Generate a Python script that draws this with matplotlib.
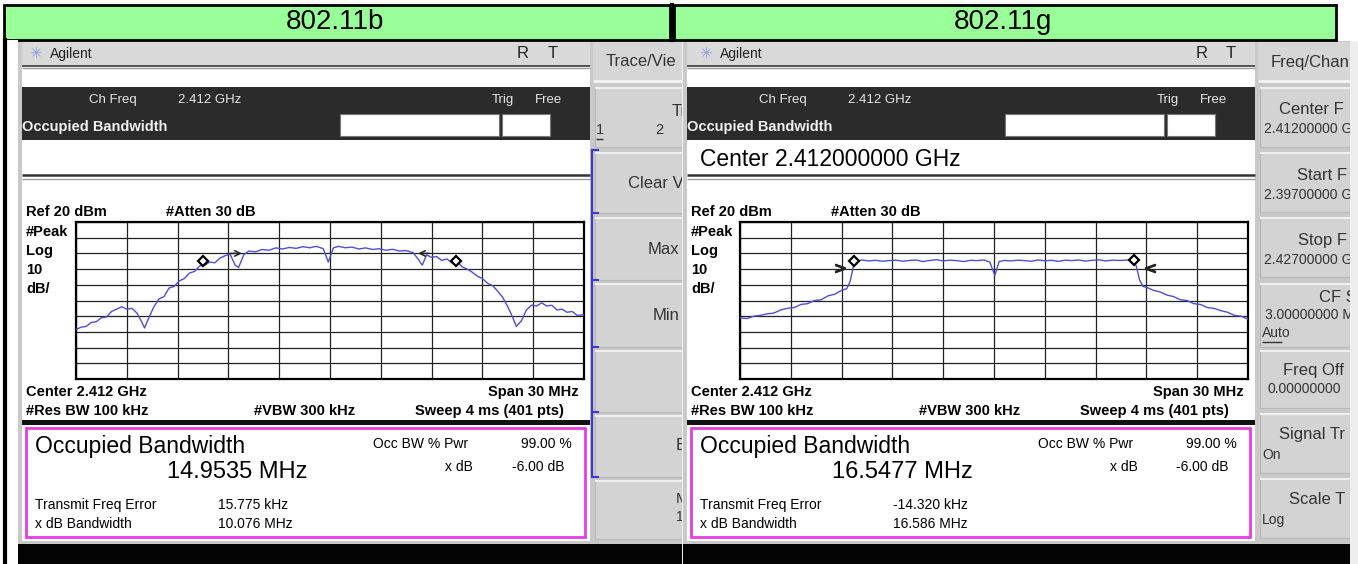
import matplotlib
matplotlib.use('Agg')
import matplotlib.pyplot as plt
from matplotlib.patches import Rectangle

plt.rcParams['font.family'] = ['Liberation Sans', 'DejaVu Sans']

# spectrum traces (MHz offset from 2.412 GHz, dBm)
b_freq = [-15.0, -14.7, -14.4, -14.1, -13.8, -13.5, -13.2, -12.9, -12.6, -12.3, -12.0, -11.7,
          -11.4, -11.1, -10.95, -10.7, -10.4, -10.1, -9.8, -9.5, -9.2, -8.9, -8.6, -8.3, -8.0,
          -7.7, -7.4, -7.1, -6.8, -6.5, -6.2, -5.9, -5.6, -5.4, -5.1, -4.8, -4.4, -4.0, -3.6,
          -3.2, -2.8, -2.4, -2.0, -1.6, -1.2, -0.8, -0.4, -0.1, 0.2, 0.5, 0.9, 1.3, 1.7, 2.1,
          2.5, 2.9, 3.3, 3.7, 4.1, 4.5, 4.9, 5.2, 5.45, 5.7, 6.0, 6.3, 6.6, 6.9, 7.2, 7.5, 7.8,
          8.1, 8.4, 8.7, 9.0, 9.3, 9.6, 9.9, 10.2, 10.5, 10.8, 11.0, 11.3, 11.6, 11.9, 12.2,
          12.5, 12.8, 13.1, 13.4, 13.7, 14.0, 14.3, 14.6, 15.0]
b_level = [-48.5, -47.0, -46.5, -44.0, -43.5, -41.0, -40.5, -37.0, -35.5, -34.0, -35.5, -35.0,
           -38.0, -44.0, -47.5, -41.0, -34.0, -29.0, -27.5, -22.0, -21.0, -17.5, -16.0, -12.5,
           -11.5, -8.0, -7.5, -5.5, -6.0, -3.0, -1.5, -0.5, -7.5, -9.0, -1.0, 1.5, 1.0, 2.5,
           2.0, 3.5, 2.8, 3.8, 3.2, 4.3, 3.6, 4.5, 3.0, -5.5, 3.5, 4.5, 3.6, 4.0, 2.8, 3.5, 2.5,
           3.0, 2.0, 2.6, 1.5, 1.8, 0.5, -3.5, -7.5, -1.0, -2.5, -2.0, -4.5, -3.5, -6.0, -5.0,
           -8.5, -10.0, -12.0, -14.5, -16.0, -19.0, -20.5, -24.0, -28.0, -34.0, -41.0, -46.5,
           -43.0, -36.0, -33.0, -33.5, -31.5, -33.5, -33.0, -36.0, -35.5, -37.5, -37.0, -39.5,
           -39.0]

g_freq = [-15.0, -14.6, -14.2, -13.8, -13.4, -13.0, -12.6, -12.2, -11.8, -11.4, -11.0, -10.6,
          -10.2, -9.8, -9.4, -9.0, -8.7, -8.5, -8.3, -8.1, -7.8, -7.4, -7.0, -6.6, -6.2, -5.8,
          -5.4, -5.0, -4.6, -4.2, -3.8, -3.4, -3.0, -2.6, -2.2, -1.8, -1.4, -1.0, -0.6, -0.25,
          0.05, 0.3, 0.6, 1.0, 1.4, 1.8, 2.2, 2.6, 3.0, 3.4, 3.8, 4.2, 4.6, 5.0, 5.4, 5.8, 6.2,
          6.6, 7.0, 7.4, 7.8, 8.2, 8.4, 8.6, 8.8, 9.1, 9.4, 9.8, 10.2, 10.6, 11.0, 11.4, 11.8,
          12.2, 12.6, 13.0, 13.4, 13.8, 14.2, 14.6, 15.0]
g_level = [-41.0, -41.5, -40.0, -39.5, -38.5, -38.0, -36.0, -35.0, -34.5, -32.5, -32.0, -30.0,
           -29.5, -27.0, -26.0, -23.5, -22.5, -18.0, -8.0, -5.0, -4.2, -4.8, -4.4, -5.0, -4.6,
           -4.3, -5.0, -4.5, -4.2, -5.2, -4.5, -4.0, -4.8, -4.3, -4.6, -5.2, -4.4, -4.6, -4.2,
           -5.5, -14.0, -5.2, -4.5, -4.8, -4.3, -4.6, -5.0, -4.2, -4.7, -4.4, -5.1, -4.3, -4.6,
           -4.2, -4.9, -4.4, -4.1, -4.8, -4.3, -4.5, -4.3, -4.0, -8.0, -17.0, -21.0, -22.0,
           -23.5, -24.5, -26.5, -27.5, -29.5, -30.0, -32.0, -32.5, -34.5, -35.0, -36.5, -37.5,
           -39.5, -40.0, -42.0]

# occupied bandwidth markers (diamonds) and x dB markers (arrows)
b_obw_f = [-7.48, 7.47]
b_obw_lvl = [-5.0, -5.0]
b_xdb_f = [-5.04, 5.04]
b_xdb_lvl = [0.0, 0.0]
g_obw_f = [-8.27, 8.28]
g_obw_lvl = [-5.0, -4.5]
g_xdb_f = [-9.1, 9.2]
g_xdb_lvl = [-9.5, -9.5]

titles = ['802.11b', '802.11g']
obw_values = ['14.9535 MHz', '16.5477 MHz']
freq_errors = ['15.775 kHz', '-14.320 kHz']
xdb_bandwidths = ['10.076 MHz', '16.586 MHz']

W, H = 1358, 564
fig = plt.figure(figsize=(W / 100, H / 100), dpi=100)
ax = fig.add_axes([0, 0, 1, 1])
ax.set_xlim(0, W)
ax.set_ylim(H, 0)
ax.axis('off')


def box(x0, y0, x1, y1, fc, z, ec='none', lw=0):
    ax.add_patch(Rectangle((x0, y0), x1 - x0, y1 - y0, fc=fc, ec=ec, lw=lw, zorder=z))


def txt(x, y, s, size=9, z=3, ha='left', weight='normal', color='black'):
    ax.text(x, y, s, fontsize=size, ha=ha, va='center', fontweight=weight,
            color=color, zorder=z)


def hline(x0, x1, y, color, lw, z):
    ax.plot([x0, x1], [y, y], color=color, lw=lw, zorder=z, solid_capstyle='butt')


def draw_screen(ox, z, i, keys, key_x1, key_title, key_texts, rt_x, dx=0,
                center_line=None, bracket=False):
    # gray base and title bar
    box(ox + 18, 40, key_x1, H, '#c9c9c9', z)
    box(ox + 22, 42, ox + 590, 65, '#d9d9d9', z + 0.1)
    txt(ox + 36 + dx, 54, '\u2733', 11, z + 2, ha='center', color='#8d9ce6')
    txt(ox + 50 + dx, 54, 'Agilent', 10, z + 2, color='#222222')
    txt(rt_x[0], 54, 'R', 12, z + 2, ha='center', color='#222222')
    txt(rt_x[1], 54, 'T', 12, z + 2, ha='center', color='#222222')
    # white info area, dark bar
    box(ox + 22, 65, ox + 590, 420, 'white', z + 0.1)
    hline(ox + 22, ox + 590, 65.5, '#444444', 1.3, z + 0.5)
    hline(ox + 22, ox + 590, 68, '#9a9a9a', 1.0, z + 0.5)
    box(ox + 22, 87, ox + 590, 140, '#2b2b2b', z + 0.2)
    txt(ox + 89 + dx, 100, 'Ch Freq', 9.5, z + 2, color='#e6e6e6')
    txt(ox + 178 + dx, 100, '2.412 GHz', 9.5, z + 2, color='#e6e6e6')
    txt(ox + 492, 100, 'Trig', 9.5, z + 2, color='#e6e6e6')
    txt(ox + 535, 100, 'Free', 9.5, z + 2, color='#e6e6e6')
    txt(ox + 22, 127, 'Occupied Bandwidth', 10.5, z + 2, weight='bold', color='#f0f0f0')
    box(ox + 340, 114, ox + 499, 136, 'white', z + 0.3, ec='#777777', lw=0.8)
    box(ox + 502, 114, ox + 550, 136, 'white', z + 0.3, ec='#777777', lw=0.8)
    if center_line:
        txt(ox + 35, 160, center_line, 16.5, z + 2)
    hline(ox + 22, ox + 590, 175, '#333333', 1.8, z + 0.5)
    hline(ox + 22, ox + 590, 178.5, '#9a9a9a', 1.0, z + 0.5)
    # plot annotations
    txt(ox + 26, 212, 'Ref 20 dBm', 10.5, z + 2, weight='bold')
    txt(ox + 166, 212, '#Atten 30 dB', 10.5, z + 2, weight='bold')
    for yy, s in zip([232, 251, 270, 289], ['#Peak', 'Log', '10', 'dB/']):
        txt(ox + 26, yy, s, 10.5, z + 2, weight='bold')
    txt(ox + 26, 392, 'Center 2.412 GHz', 10.5, z + 2, weight='bold')
    txt(ox + 579, 392, 'Span 30 MHz', 10.5, z + 2, ha='right', weight='bold')
    txt(ox + 26, 411, '#Res BW 100 kHz', 10.5, z + 2, weight='bold')
    txt(ox + 254, 411, '#VBW 300 kHz', 10.5, z + 2, weight='bold')
    txt(ox + 564, 411, 'Sweep 4 ms (401 pts)', 10.5, z + 2, ha='right', weight='bold')
    box(ox + 22, 420, ox + 590, 425, '#111111', z + 0.3)
    # results box
    box(ox + 22, 425, ox + 590, 541, 'white', z + 0.2)
    box(ox + 26, 427.5, ox + 585, 537, 'white', z + 0.3, ec='#e23ee2', lw=2)
    txt(ox + 35, 446, 'Occupied Bandwidth', 16.5, z + 2)
    txt(ox + 167, 472, obw_values[i], 17, z + 2)
    txt(ox + 373, 444, 'Occ BW % Pwr', 10, z + 2)
    txt(ox + 572, 444, '99.00 %', 10, z + 2, ha='right')
    txt(ox + 473, 467, 'x dB', 10, z + 2, ha='right')
    txt(ox + 564, 467, '-6.00 dB', 10, z + 2, ha='right')
    txt(ox + 35, 505, 'Transmit Freq Error', 10, z + 2)
    txt(ox + 218 + 2 * dx, 505, freq_errors[i], 10, z + 2)
    txt(ox + 35, 524, 'x dB Bandwidth', 10, z + 2)
    txt(ox + 218 + 2 * dx, 524, xdb_bandwidths[i], 10, z + 2)
    box(ox + 18, 544, key_x1, H, '#030303', z + 0.4)
    # softkeys (labels run on past the column and get covered by the next panel)
    kx0 = ox + 593
    box(kx0, 42, key_x1, 80, '#d6d6d6', z + 0.2)
    hline(kx0, key_x1, 81, '#f4f4f4', 2, z + 0.3)
    txt(kx0 + 13, 62, key_title, 12, z + 1.5, color='#333333')
    for (y0, y1) in keys:
        box(kx0 + 2, y0, key_x1, y1, '#d3d3d3', z + 0.2, ec='#b8b8b8', lw=0.8)
        hline(kx0 + 2, key_x1, y0 + 1, '#f0f0f0', 1.5, z + 0.3)
    for (x, y, s, size) in key_texts:
        txt(ox + x, y, s, size, z + 1.5, color='#333333')
    if bracket:
        ax.plot([kx0 - 1, kx0 - 1], [150, 477], color='#3b3bd0', lw=1.6, zorder=z + 1)
        for yy in [150, 213, 280, 347, 412, 477]:
            hline(kx0 - 1, kx0 + 6, yy, '#3b3bd0', 1.5, z + 1)


left_keys = [(87, 147), (152, 213), (217, 280), (283, 347), (350, 412), (415, 477), (480, 539)]
left_key_texts = [(672, 111, 'Tr', 12), (596, 130, '1', 10.5), (655, 130, '2', 10.5),
                  (628, 183, 'Clear V', 12), (648, 249, 'Max', 12),
                  (653, 315, 'Min', 12), (676, 446, 'B', 12),
                  (676, 499, 'M', 11), (676, 517, '1', 10)]
draw_screen(0, 1, 0, left_keys, 682, 'Trace/Vie', left_key_texts, (523, 553),
            bracket=True)
hline(596, 603, 139, '#333333', 1, 4)

# gap between the two screens
box(682, 40, 688, H, '#f2f2f2', 4.8)

right_keys = [(87, 147), (152, 212), (217, 277), (283, 347), (350, 408), (413, 473), (478, 538)]
right_key_texts = [(614, 110, 'Center F', 12), (599, 129, '2.41200000 G', 10),
                   (632, 175, 'Start F', 12), (599, 195, '2.39700000 G', 10),
                   (633, 240, 'Stop F', 12), (599, 260, '2.42700000 G', 10),
                   (654, 297, 'CF S', 12), (600, 315, '3.00000000 M', 10),
                   (597, 333, 'Auto', 10),
                   (618, 370, 'Freq Off', 12), (603, 389, '0.00000000', 10),
                   (614, 435, 'Signal Tr', 12), (597, 455, 'On', 10),
                   (624, 500, 'Scale T', 12), (597, 520, 'Log', 10)]
draw_screen(665, 5, 1, right_keys, 1350, 'Freq/Chann', right_key_texts, (1202, 1231),
            dx=5, center_line='Center 2.412000000 GHz')
hline(1262, 1282, 342, '#333333', 1, 8)
box(1350, 40, W, H, '#eeeeee', 9)

# header strip
box(0, 0, W, 41, 'white', 20)
box(4, 5, 670, 40, '#99ff99', 21, ec='black', lw=2)
box(674, 5, 1336, 40, '#99ff99', 21, ec='black', lw=2)
ax.plot([672, 672], [5, 40], color='black', lw=3, zorder=22)
txt(335, 22, titles[0], 20, 22, ha='center')
txt(1003, 22, titles[1], 20, 22, ha='center')
ax.plot([5, 5], [40, H], color='black', lw=3, zorder=22)
box(7, 40, 18, H, 'white', 21)


def spectrum(x0, freq, level, obw_f, obw_lvl, xdb_f, xdb_lvl, stems):
    sa = fig.add_axes([x0 / W, (H - 379) / H, 508 / W, 157 / H])
    sa.set_xlim(-15, 15)
    sa.set_ylim(-80, 20)
    sa.set_xticks(range(-15, 16, 3))
    sa.set_yticks(range(-80, 21, 10))
    sa.grid(True, color='#222222', lw=0.9)
    sa.tick_params(length=0, labelbottom=False, labelleft=False)
    for sp in sa.spines.values():
        sp.set_linewidth(1.6)
    sa.set_facecolor('white')
    sa.plot(freq, level, color='#4f4fd6', lw=1.0, zorder=3)
    sa.plot(obw_f, obw_lvl, linestyle='none', marker='D', ms=5.5, mfc='white',
            mec='black', mew=1.6, zorder=4)
    for f, lv, d in zip(xdb_f, xdb_lvl, [1, -1]):
        if stems:
            sa.annotate('', xy=(f, lv), xytext=(f - d * 1.0, lv),
                        arrowprops=dict(arrowstyle='->', color='#222222', lw=1.1), zorder=4)
        else:
            sa.plot([f], [lv], linestyle='none', marker='$>$' if d > 0 else '$<$',
                    ms=7, color='#222222', zorder=4)


spectrum(76, b_freq, b_level, b_obw_f, b_obw_lvl, b_xdb_f, b_xdb_lvl, True)
spectrum(740, g_freq, g_level, g_obw_f, g_obw_lvl, g_xdb_f, g_xdb_lvl, False)

fig.savefig('out.png', dpi=100)
